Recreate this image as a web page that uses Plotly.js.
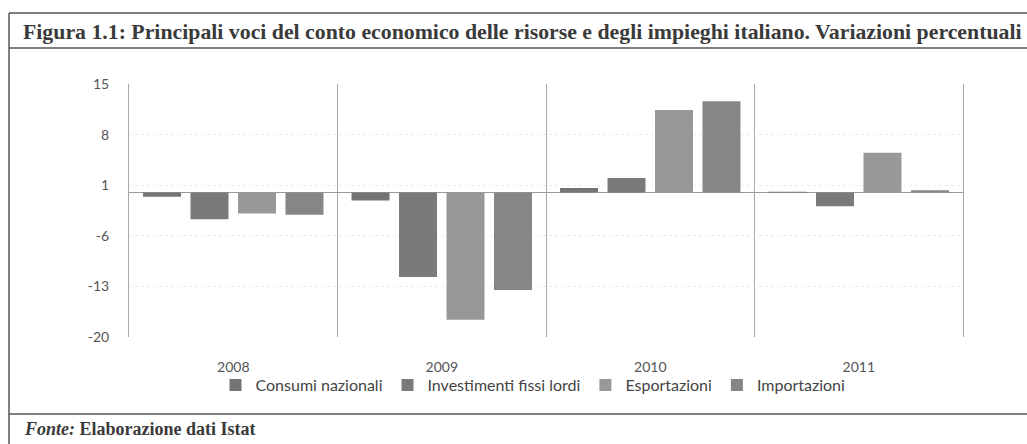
<!DOCTYPE html>
<html>
<head>
<meta charset="utf-8">
<script src="https://cdn.plot.ly/plotly-3.0.1.min.js"></script>
<style>html,body{margin:0;padding:0;background:#fff;}#chart{width:1027px;height:444px;}</style>
</head>
<body>
<div id="chart"></div>
<script>
const years = ['2008', '2009', '2010', '2011'];
const seriesNames = ['Consumi nazionali', 'Investimenti fissi lordi', 'Esportazioni', 'Importazioni'];
const consumiNazionali = [-0.6, -1.1, 0.6, 0.1];
const investimentiFissiLordi = [-3.7, -11.7, 2.0, -1.9];
const esportazioni = [-2.9, -17.6, 11.4, 5.5];
const importazioni = [-3.1, -13.5, 12.6, 0.3];
const yTicks = [-20, -13, -6, 1, 8, 15];

const seriesValues = [consumiNazionali, investimentiFissiLordi, esportazioni, importazioni];
const seriesColors = ['#747474', '#7a7a7a', '#989898', '#868686'];

const traces = seriesNames.map((n, i) => ({
  type: 'bar', name: n, x: years, y: seriesValues[i],
  marker: {color: seriesColors[i], line: {width: 0}},
  hoverinfo: 'x+y+name'
}));

const lineCol = '#555';
const layout = {
  width: 1027, height: 444,
  paper_bgcolor: '#fff', plot_bgcolor: '#fff',
  margin: {l: 129, r: 64, t: 84, b: 107},
  barmode: 'group', bargap: 0.089, bargroupgap: 0.2,
  showlegend: true,
  font: {family: 'Lato, "Open Sans", sans-serif', color: '#555'},
  title: {
    text: '<b>Figura 1.1: Principali voci del conto economico delle risorse e degli impieghi italiano. Variazioni percentuali</b>',
    xref: 'container', yref: 'container', x: 23/1027, xanchor: 'left', y: 1 - 31/444, yanchor: 'middle',
    font: {family: '"Liberation Serif", "DejaVu Serif", serif', size: 21.8, color: '#3a3a3a'}
  },
  xaxis: {
    type: 'category', tickson: 'boundaries', showgrid: true, gridcolor: '#a8a8a8', gridwidth: 1,
    ticks: '', showline: false, zeroline: false, ticklabelstandoff: 20,
    tickfont: {size: 14, color: '#555'}
  },
  yaxis: {
    range: [-20, 15], tickvals: yTicks, ticktext: yTicks.map(String),
    showgrid: true, gridcolor: '#ececec', griddash: 'dot', gridwidth: 1,
    zeroline: true, zerolinecolor: '#9a9a9a', zerolinewidth: 1.5,
    showline: true, mirror: true, linecolor: '#a8a8a8', linewidth: 1,
    ticks: '', ticklabelstandoff: 16,
    tickfont: {size: 14, color: '#555'}
  },
  legend: {
    orientation: 'h', x: (533 - 129) / 834, xanchor: 'center', y: (337 - 385) / 253, yanchor: 'middle',
    font: {size: 16, color: '#444'}, itemwidth: 30, tracegroupgap: 0,
    bgcolor: 'rgba(0,0,0,0)'
  },
  annotations: [{
    xref: 'paper', yref: 'paper', x: (22 - 129) / 834, y: (337 - 429) / 253, xanchor: 'left', yanchor: 'middle',
    showarrow: false, align: 'left',
    text: '<b><i>Fonte:</i> Elaborazione dati Istat</b>',
    font: {family: '"Liberation Serif", "DejaVu Serif", serif', size: 18, color: '#3a3a3a'}
  }],
  shapes: [
    {type: 'line', xref: 'paper', yref: 'paper', x0: (9 - 129) / 834, x1: (1027 - 129) / 834, y0: (337 - 13) / 253, y1: (337 - 13) / 253, line: {color: lineCol, width: 1.5}},
    {type: 'line', xref: 'paper', yref: 'paper', x0: (9 - 129) / 834, x1: (1027 - 129) / 834, y0: (337 - 48) / 253, y1: (337 - 48) / 253, line: {color: lineCol, width: 1.5}},
    {type: 'line', xref: 'paper', yref: 'paper', x0: (9 - 129) / 834, x1: (1027 - 129) / 834, y0: (337 - 414) / 253, y1: (337 - 414) / 253, line: {color: lineCol, width: 1.5}},
    {type: 'line', xref: 'paper', yref: 'paper', x0: (9 - 129) / 834, x1: (9 - 129) / 834, y0: (337 - 13) / 253, y1: (337 - 444) / 253, line: {color: lineCol, width: 1.5}}
  ]
};

Plotly.newPlot('chart', traces, layout, {displayModeBar: false, staticPlot: true});
</script>
</body>
</html>
